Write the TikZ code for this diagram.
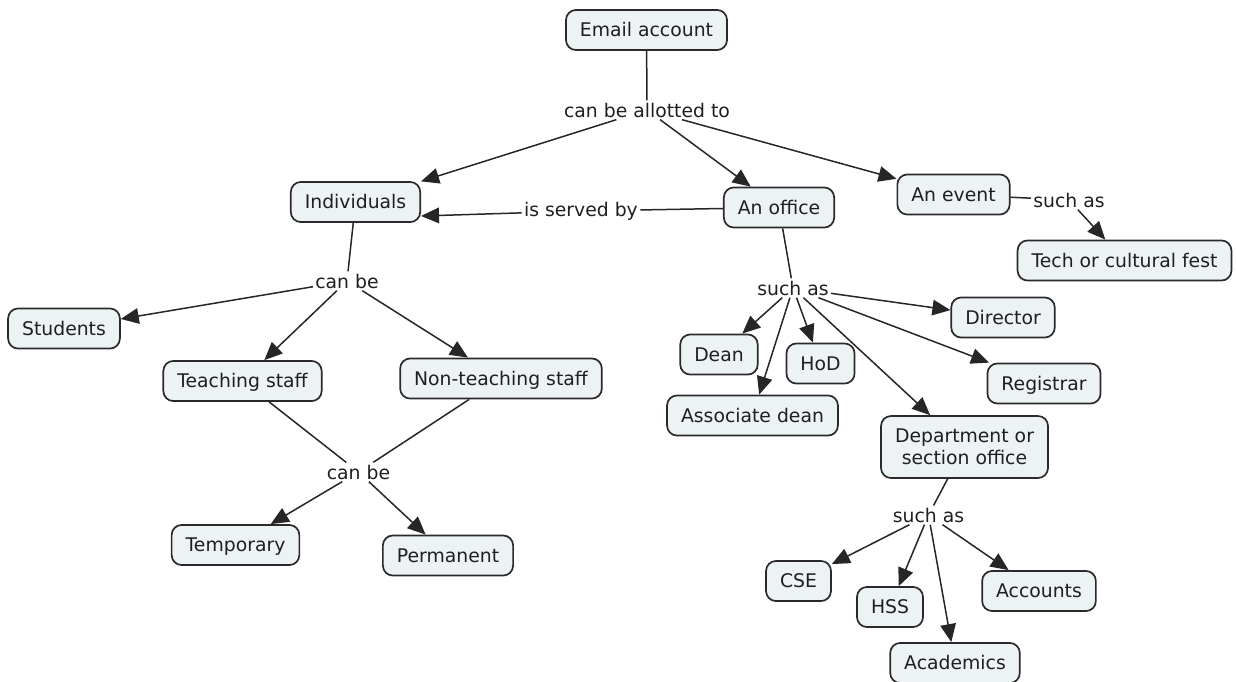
\documentclass[tikz,border=0pt]{standalone}
\usepackage{fontspec}
\setmainfont{DejaVu Sans}
\usetikzlibrary{arrows.meta}
\definecolor{conceptfill}{HTML}{EDF2F5}
\definecolor{conceptline}{HTML}{2A2A2A}
\tikzset{
        concept/.style={draw=conceptline, line width=0.85pt, fill=conceptfill, rounded corners=5pt,
          inner xsep=7pt, inner ysep=4.1pt, text height=9.35pt, text depth=2.5pt, text=black!88},
        twoline/.style={align=center, text height=, text depth=, inner ysep=6.5pt},
        phrase/.style={inner sep=1pt, text=black!88},
        link/.style={line width=0.75pt, draw=black!85},
        arrow/.style={link, -{Triangle[length=9pt, width=7.8pt]}}
          }

\begin{document}
\begin{tikzpicture}[x=0.5pt, y=-0.5pt,
        every node/.style={font=\fontsize{9.4}{11}\selectfont}
        ]
        \useasboundingbox (0,0) rectangle (1236,681);
        % concepts and linking phrases
        \node[concept] (email) at (646.5,30) {Email account};
        \node[phrase] (allot) at (647,110) {can be allotted to};
        \node[concept] (indiv) at (355.5,202) {Individuals};
        \node[concept] (office) at (779,207.5) {An office};
        \node[concept] (event) at (953.5,194.5) {An event};
        \node[phrase] (servedby) at (581,211) {is served by};
        \node[phrase] (suchev) at (1069,200) {such as};
        \node[concept] (fest) at (1124.5,260.5) {Tech or cultural fest};
        \node[phrase] (canbe) at (347,281) {can be};
        \node[concept] (students) at (64,328.5) {Students};
        \node[concept] (teach) at (242.5,381) {Teaching staff};
        \node[concept] (nonteach) at (501,378.5) {Non-teaching staff};
        \node[phrase] (canbelow) at (358.5,472) {can be};
        \node[concept] (temp) at (235.5,545) {Temporary};
        \node[concept] (perm) at (448,555.5) {Permanent};
        \node[phrase] (suchoff) at (793,288) {such as};
        \node[concept] (director) at (1003,317.5) {Director};
        \node[concept] (dean) at (719,354.5) {Dean};
        \node[concept] (hod) at (820.5,363.5) {HoD};
        \node[concept] (registrar) at (1044,383.5) {Registrar};
        \node[concept] (assocdean) at (752.5,415.5) {Associate dean};
        \node[concept, twoline] (dept) at (964.5,447) {Department or\\section office};
        \node[phrase] (suchdept) at (928.5,515) {such as};
        \node[concept] (cse) at (798.5,581) {CSE};
        \node[concept] (hss) at (890,607) {HSS};
        \node[concept] (accounts) at (1039,591) {Accounts};
        \node[concept] (academics) at (955,663) {Academics};
        % connectors
        \draw[link] (email) -- (allot);
        \foreach \t in {indiv, office, event}
          \draw[arrow] (allot) -- (\t);
        \draw[link] (office) -- (servedby);
        \draw[arrow] (servedby) -- ([yshift=-7pt]indiv.east);
        \draw[link] (event) -- (suchev);
        \draw[arrow] (suchev) -- (fest);
        \draw[link] (indiv) -- (canbe);
        \foreach \t in {students, teach, nonteach}
          \draw[arrow] (canbe) -- (\t);
        \draw[link] (teach) -- (canbelow);
        \draw[link] (nonteach) -- (canbelow);
        \foreach \t in {temp, perm}
          \draw[arrow] (canbelow) -- (\t);
        \draw[link] (office) -- (suchoff);
        \foreach \t in {director, dean, hod, registrar, assocdean, dept}
          \draw[arrow] (suchoff) -- (\t);
        \draw[link] (dept) -- (suchdept);
        \foreach \t in {cse, hss, accounts, academics}
          \draw[arrow] (suchdept) -- (\t);
\end{tikzpicture}
\end{document}
